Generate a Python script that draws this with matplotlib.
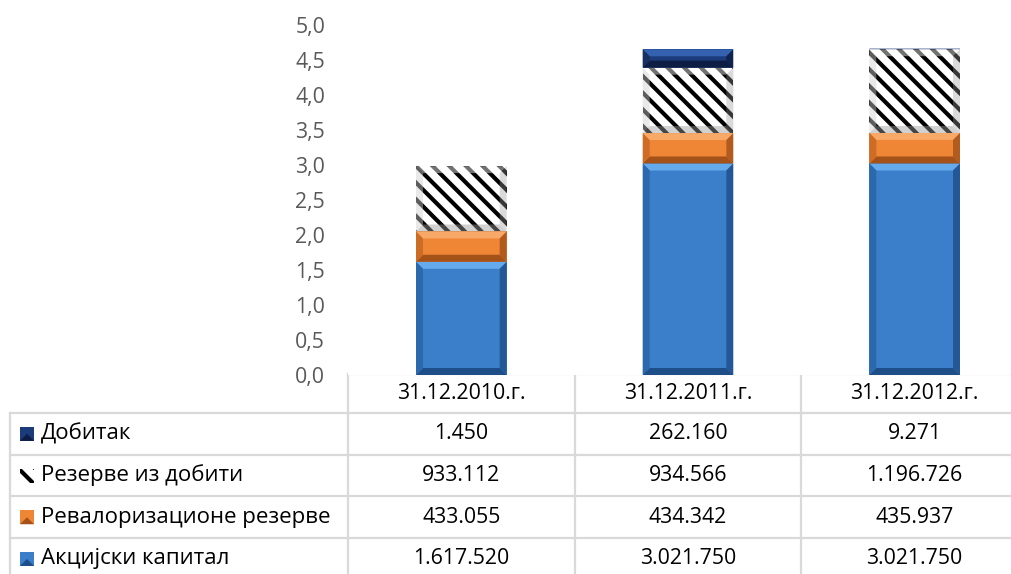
import matplotlib
matplotlib.use("Agg")
import matplotlib.pyplot as plt
from matplotlib.patches import Polygon, Rectangle
from matplotlib.lines import Line2D

plt.rcParams['font.family'] = ['Open Sans', 'DejaVu Sans']
plt.rcParams['hatch.linewidth'] = 3.0

categories = ["31.12.2010.г.", "31.12.2011.г.", "31.12.2012.г."]
series_names = ["Акцијски капитал", "Ревалоризационе резерве", "Резерве из добити", "Добитак"]
akcijski = [1617520, 3021750, 3021750]
revalor = [433055, 434342, 435937]
rezerve = [933112, 934566, 1196726]
dobitak = [1450, 262160, 9271]
yticks = [0, 0.5, 1.0, 1.5, 2.0, 2.5, 3.0, 3.5, 4.0, 4.5, 5.0]

series = [akcijski, revalor, rezerve, dobitak]
styles = [
    dict(face="#3B7FCB", top="#66AAEE", bot="#1E4E88", side="#2C68AC", hatch=None),
    dict(face="#EE8635", top="#F8A867", bot="#A4511A", side="#CC6C25", hatch=None),
    dict(face="white", top="#FFFFFF", bot="#9A9A9A", side="#CFCFCF", hatch="\\\\"),
    dict(face="#1C3B7A", top="#3562B0", bot="#0D1D44", side="#17305F", hatch=None),
]

NUM_FS = 15.3
LAB_FS = 16.0

W, H = 1012, 574
fig = plt.figure(figsize=(W / 100, H / 100), dpi=100)

# layout in pixels
col_edges = [348, 575, 801, 1028]
label_left = 10
y_top_header = 374
row_h = 41.7
y_rows = [413 + i * row_h for i in range(5)]
plot_top = 25


def fx(x):
    return x / W


def fy(y):
    return 1 - y / H


ax = fig.add_axes([fx(348), fy(375), fx(1028 - 348), (375 - plot_top) / H])
ax.set_xlim(-0.5, 2.5)
ax.set_ylim(0, 5)
for s in ax.spines.values():
    s.set_visible(False)
ax.set_xticks([])
ax.set_yticks(yticks)
ax.set_yticklabels([f"{t:.1f}".replace(".", ",") for t in yticks], color="#595959", fontsize=NUM_FS)
ax.tick_params(axis="y", length=0, pad=16.5)

bar_w = 0.4
px_per_x = (1028 - 348) / 3.0
px_per_y = (375 - plot_top) / 5.0
bev = 7.0


def bevel_bar(x, bottom, height, st):
    rect = Rectangle((x - bar_w / 2, bottom), bar_w, height, facecolor=st["face"],
                     edgecolor="black" if st["hatch"] else "none", linewidth=0,
                     hatch=st["hatch"], zorder=2)
    ax.add_patch(rect)
    hp = height * px_per_y
    b = min(bev, hp / 2)
    if b <= 0.2:
        return
    bx = b / px_per_x
    by = b / px_per_y
    x0, x1 = x - bar_w / 2, x + bar_w / 2
    y0, y1 = bottom, bottom + height
    alpha = 0.45 if st["hatch"] else 1.0
    ax.add_patch(Polygon([(x0, y1), (x1, y1), (x1 - bx, y1 - by), (x0 + bx, y1 - by)],
                         closed=True, facecolor=st["top"], edgecolor="none", alpha=alpha, zorder=3))
    ax.add_patch(Polygon([(x0, y0), (x1, y0), (x1 - bx, y0 + by), (x0 + bx, y0 + by)],
                         closed=True, facecolor=st["bot"], edgecolor="none", alpha=alpha, zorder=3))
    ax.add_patch(Polygon([(x0, y0), (x0, y1), (x0 + bx, y1 - by), (x0 + bx, y0 + by)],
                         closed=True, facecolor=st["side"], edgecolor="none", alpha=alpha, zorder=3))
    ax.add_patch(Polygon([(x1, y0), (x1, y1), (x1 - bx, y1 - by), (x1 - bx, y0 + by)],
                         closed=True, facecolor=st["bot"], edgecolor="none", alpha=alpha * 0.8, zorder=3))


bottoms = [0.0, 0.0, 0.0]
for vals, st in zip(series, styles):
    for i, v in enumerate(vals):
        h = v / 1e6
        bevel_bar(i, bottoms[i], h, st)
        bottoms[i] += h

# table overlay axes in pixel coordinates
tax = fig.add_axes([0, 0, 1, 1], zorder=-1)
tax.set_xlim(0, W)
tax.set_ylim(H, 0)
tax.axis("off")
grid = "#D9D9D9"
lw = 1.6


def hline(y, x0, x1):
    tax.add_line(Line2D([x0, x1], [y, y], color=grid, lw=lw))


def vline(x, y0, y1):
    tax.add_line(Line2D([x, x], [y0, y1], color=grid, lw=lw))


hline(y_top_header, col_edges[0], col_edges[-1])
for y in y_rows:
    hline(y, label_left, col_edges[-1])
for x in col_edges:
    vline(x, y_top_header, H + 10)
vline(label_left, y_rows[0], H + 10)

for i, c in enumerate(categories):
    tax.text((col_edges[i] + col_edges[i + 1]) / 2, (y_top_header + y_rows[0]) / 2, c,
             ha="center", va="center", fontsize=NUM_FS, color="black")


def fmt(v):
    return f"{v:,}".replace(",", ".")


row_order = [3, 2, 1, 0]
for r, si in enumerate(row_order):
    yc = (y_rows[r] + y_rows[r + 1]) / 2
    st = styles[si]
    kx0, ks = 20, 14
    key = Rectangle((kx0, yc - ks / 2), ks, ks, facecolor=st["face"],
                    edgecolor="black" if st["hatch"] else "none", linewidth=0,
                    hatch=st["hatch"], zorder=2)
    tax.add_patch(key)
    if not st["hatch"]:
        tax.add_patch(Polygon([(kx0, yc + ks / 2), (kx0 + ks / 2, yc), (kx0 + ks, yc + ks / 2)],
                              closed=True, facecolor=st["bot"], edgecolor="none", zorder=3))
    tax.text(41, yc, series_names[si], ha="left", va="center", fontsize=LAB_FS, color="black")
    for i in range(3):
        tax.text((col_edges[i] + col_edges[i + 1]) / 2, yc, fmt(series[si][i]),
                 ha="center", va="center", fontsize=NUM_FS, color="black")

fig.savefig("out.png", dpi=100)
